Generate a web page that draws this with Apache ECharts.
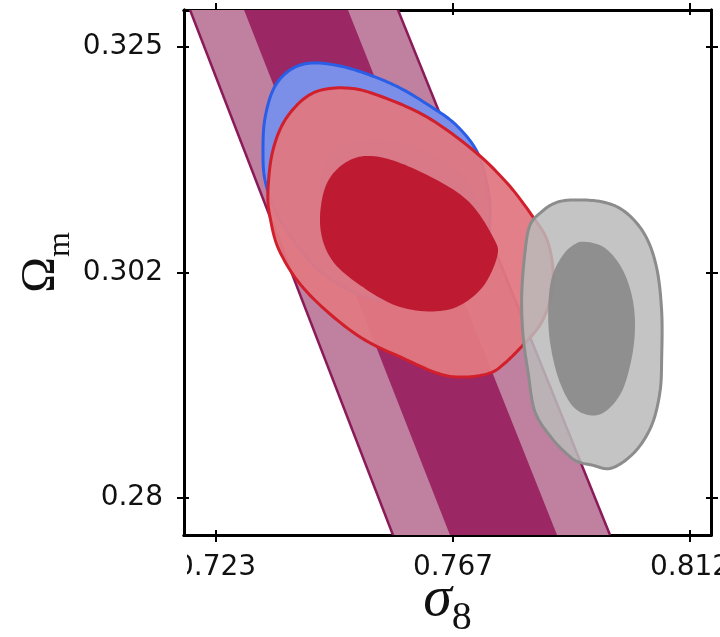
<!DOCTYPE html>
<html><head><meta charset="utf-8">
<script src="https://cdn.jsdelivr.net/npm/echarts@6/dist/echarts.min.js"></script>
<style>html,body{margin:0;padding:0;background:#fff}#c{width:720px;height:637px}</style>
</head><body><div id="c"></div>
<script>
// axis ranges and ticks (sigma_8, Omega_m)
const xRange = [0.71649, 0.81544];
const yRange = [0.27581, 0.32819];
const xTickValues = [0.7225, 0.767, 0.8115];
const xTickLabels = ['0.723', '0.767', '0.812'];
const yTickValues = [0.2795, 0.302, 0.3245];
const yTickLabels = ['0.28', '0.302', '0.325'];

// degeneracy band (95% and 68%)
const bandOuter = [[0.71617,0.33019],[0.75515,0.33019],[0.79800,0.27381],[0.75718,0.27381]];
const bandInner = [[0.72629,0.33019],[0.74578,0.33019],[0.78803,0.27381],[0.76790,0.27381]];

// blue contours
const blueOuter = [[0.74034,0.32290],[0.74578,0.32260],[0.75141,0.32170],[0.75705,0.32041],[0.76268,0.31861],[0.76737,0.31682],[0.77113,0.31442],[0.77301,0.31173],[0.77394,0.30823],[0.77301,0.30424],[0.76831,0.30125],[0.76080,0.29945],[0.75141,0.29945],[0.74296,0.30175],[0.73771,0.30474],[0.73376,0.30803],[0.73170,0.31123],[0.73132,0.31422],[0.73170,0.31741],[0.73339,0.32041],[0.73639,0.32220]];
const blueInner = [[0.74447,0.31422],[0.74954,0.31522],[0.75705,0.31502],[0.76456,0.31342],[0.77019,0.31073],[0.77207,0.30774],[0.76925,0.30524],[0.76268,0.30424],[0.75423,0.30474],[0.74672,0.30644],[0.74240,0.30923],[0.74240,0.31223]];

// red contours
const redOuter = [[0.74710,0.32041],[0.75329,0.31961],[0.76212,0.31751],[0.77075,0.31422],[0.77714,0.31093],[0.78202,0.30754],[0.78465,0.30524],[0.78577,0.30225],[0.78521,0.29925],[0.78333,0.29676],[0.78014,0.29476],[0.77676,0.29297],[0.77394,0.29197],[0.76925,0.29157],[0.76456,0.29187],[0.75836,0.29327],[0.74897,0.29576],[0.73958,0.30005],[0.73452,0.30404],[0.73264,0.30754],[0.73226,0.31023],[0.73320,0.31422],[0.73583,0.31751],[0.74071,0.31991]];
const redInner = [[0.74203,0.30694],[0.74334,0.31093],[0.74766,0.31322],[0.75329,0.31352],[0.76137,0.31193],[0.76963,0.30923],[0.77451,0.30554],[0.77526,0.30354],[0.77207,0.30025],[0.76587,0.29826],[0.75705,0.29856],[0.74897,0.30095],[0.74390,0.30354]];

// gray contours
const grayOuter = [[0.78929,0.30923],[0.79492,0.30906],[0.79929,0.30806],[0.80305,0.30574],[0.80524,0.30245],[0.80618,0.29809],[0.80618,0.29347],[0.80586,0.29010],[0.80431,0.28678],[0.80117,0.28412],[0.79680,0.28249],[0.79304,0.28279],[0.79047,0.28312],[0.78859,0.28379],[0.78553,0.28548],[0.78239,0.28811],[0.78108,0.29210],[0.78014,0.29576],[0.77990,0.29975],[0.78052,0.30407],[0.78146,0.30674],[0.78365,0.30806],[0.78615,0.30893]];
const grayInner = [[0.79178,0.30507],[0.79554,0.30444],[0.79867,0.30245],[0.80055,0.29975],[0.80117,0.29676],[0.80055,0.29347],[0.79867,0.29010],[0.79554,0.28811],[0.79240,0.28778],[0.78929,0.28878],[0.78677,0.29147],[0.78521,0.29509],[0.78489,0.29846],[0.78553,0.30145],[0.78741,0.30357],[0.78959,0.30474]];

// closed Catmull-Rom curve through the projected contour points (pixel space)
function closedSpline(p, seg) {
  const n = p.length, out = [];
  for (let i = 0; i < n; i++) {
    const p0 = p[(i - 1 + n) % n], p1 = p[i], p2 = p[(i + 1) % n], p3 = p[(i + 2) % n];
    for (let s = 0; s < seg; s++) {
      const t = s / seg, t2 = t * t, t3 = t2 * t;
      const f = function (k) {
        return 0.5 * (2 * p1[k] + (-p0[k] + p2[k]) * t + (2 * p0[k] - 5 * p1[k] + 4 * p2[k] - p3[k]) * t2 + (-p0[k] + 3 * p1[k] - 3 * p2[k] + p3[k]) * t3);
      };
      out.push([f(0), f(1)]);
    }
  }
  return out;
}
function poly(name, pts, st) {
  return {
    type: 'custom', name: name, clip: true, silent: true, animation: false,
    xAxisIndex: 0, yAxisIndex: 0,
    data: pts,
    renderItem: function (params, api) {
      if (params.dataIndex !== 0) return null;
      let p = pts.map(function (d) { return api.coord(d); });
      if (st.curve) p = closedSpline(p, 12);
      return { type: 'polygon', shape: { points: p },
        style: { fill: st.fill, stroke: st.stroke || null, lineWidth: st.lineWidth || 0, lineJoin: 'round' } };
    }
  };
}
function edges(name, pts, color) {
  return {
    type: 'custom', name: name, clip: true, silent: true, animation: false,
    xAxisIndex: 0, yAxisIndex: 0, data: [pts[0]],
    renderItem: function (params, api) {
      const p = pts.map(function (d) { return api.coord(d); });
      return { type: 'group', children: [
        { type: 'polyline', shape: { points: [p[0], p[3]] }, style: { stroke: color, lineWidth: 2.5, fill: null } },
        { type: 'polyline', shape: { points: [p[1], p[2]] }, style: { stroke: color, lineWidth: 2.5, fill: null } }
      ] };
    }
  };
}
function fmt(vals, labels) {
  return function (v) {
    for (let i = 0; i < vals.length; i++) if (Math.abs(vals[i] - v) < 1e-7) return labels[i];
    return '';
  };
}
const labelFont = { fontFamily: 'DejaVu Sans', fontSize: 28, color: '#111' };
function xAx(pos, inside, withLabel) {
  return {
    type: 'value', position: pos, min: xRange[0], max: xRange[1],
    axisLine: { show: true, onZero: false, lineStyle: { color: '#000', width: 3 } },
    axisTick: { show: true, inside: inside, length: inside ? 5 : 7, customValues: xTickValues, lineStyle: { color: '#000', width: 2 } },
    axisLabel: Object.assign({ show: withLabel, customValues: xTickValues, margin: 19, formatter: fmt(xTickValues, xTickLabels) }, labelFont),
    splitLine: { show: false },
    name: withLabel ? '{a|σ}{b|8}' : '',
    nameLocation: 'middle', nameGap: 36, nameMoveOverlap: false,
    nameTextStyle: { rich: {
      a: { fontFamily: 'Liberation Serif', fontStyle: 'italic', fontSize: 58, lineHeight: 60, verticalAlign: 'top', color: '#111' },
      b: { fontFamily: 'Liberation Serif', fontSize: 40, lineHeight: 40, padding: [27, 0, 0, 0], verticalAlign: 'top', color: '#111' }
    } }
  };
}
function yAx(pos, inside, withLabel) {
  return {
    type: 'value', position: pos, min: yRange[0], max: yRange[1],
    axisLine: { show: true, onZero: false, lineStyle: { color: '#000', width: 3 } },
    axisTick: { show: true, inside: inside, length: inside ? 5 : 7, customValues: yTickValues, lineStyle: { color: '#000', width: 2 } },
    axisLabel: Object.assign({ show: withLabel, customValues: yTickValues, margin: 21, formatter: fmt(yTickValues, yTickLabels) }, labelFont),
    splitLine: { show: false },
    name: withLabel ? '{a|Ω}{b|m}' : '',
    nameLocation: 'middle', nameGap: 115, nameRotate: 90, nameMoveOverlap: false,
    nameTextStyle: { rich: {
      a: { fontFamily: 'Liberation Serif', fontSize: 48, lineHeight: 52, padding: [0, 0, 0, 20], verticalAlign: 'top', color: '#111' },
      b: { fontFamily: 'Liberation Serif', fontSize: 32, lineHeight: 32, padding: [28, 0, 0, 0], verticalAlign: 'top', color: '#111' }
    } }
  };
}

const chart = echarts.init(document.getElementById('c'), null, { renderer: 'canvas' });
chart.setOption({
  animation: false,
  backgroundColor: '#fff',
  grid: { left: 184, right: 9, top: 10, bottom: 102, outerBoundsMode: 'none', containLabel: false },
  xAxis: [xAx('bottom', false, true), xAx('bottom', true, false), xAx('top', false, false), xAx('top', true, false)],
  yAxis: [yAx('left', false, true), yAx('left', true, false), yAx('right', false, false), yAx('right', true, false)],
  series: [
    poly('band95', bandOuter, { fill: '#c0809f' }),
    poly('band68', bandInner, { fill: '#9b2764' }),
    edges('bandEdge', bandOuter, '#8a1a58'),
    poly('blue95', blueOuter, { fill: '#7b8ee8', stroke: '#2a5ee6', lineWidth: 3, curve: true }),
    poly('blue68', blueInner, { fill: '#5a70d8', curve: true }),
    poly('red95', redOuter, { fill: 'rgba(224,120,130,0.95)', stroke: '#d11f2c', lineWidth: 3, curve: true }),
    poly('red68', redInner, { fill: 'rgba(189,24,48,0.97)', curve: true }),
    poly('gray95', grayOuter, { fill: 'rgba(186,186,186,0.86)', stroke: '#8c8c8c', lineWidth: 3, curve: true }),
    poly('gray68', grayInner, { fill: 'rgba(138,138,138,0.92)', curve: true })
  ],
  graphic: [{ type: 'rect', left: 0, top: 545, shape: { width: 187, height: 50 }, style: { fill: '#fff' }, z: 100 }]
});
</script></body></html>
